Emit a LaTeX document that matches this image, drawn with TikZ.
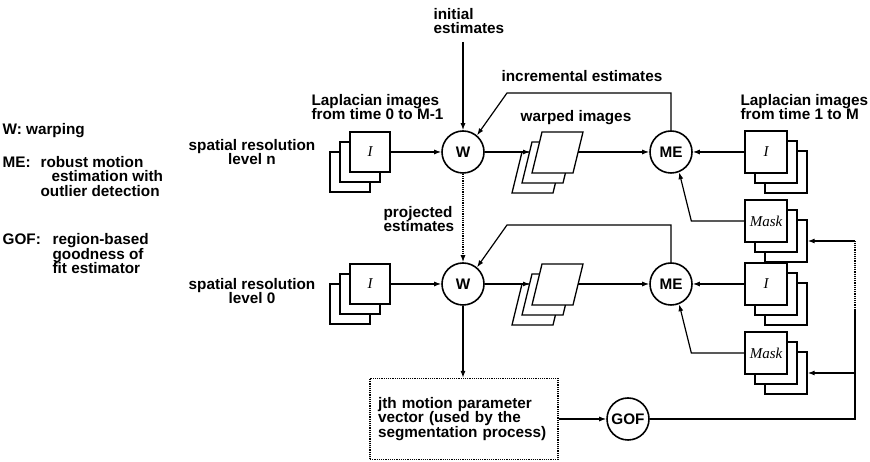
\documentclass[tikz,border=0pt]{standalone}
\usepackage{fontspec}
\setmainfont{Liberation Sans}
\newfontfamily\imgfont{Liberation Serif}
\usetikzlibrary{arrows.meta}

\tikzset{
  >={Latex[length=7pt,width=5pt]},
  every node/.style={font=\fontsize{15.3}{14.5}\selectfont\bfseries},
  op/.style={draw, circle, line width=1.6pt, minimum size=42pt, inner sep=0pt, fill=white},
  imgbox/.style={draw, fill=white, line width=1.3pt, minimum size=40pt, inner sep=0pt,
    font=\fontsize{15}{15}\selectfont\imgfont\itshape},
  sheet/.style={draw, fill=white, line width=1.3pt},
  lbl/.style={align=left, inner sep=0pt},
}

\begin{document}
\begin{tikzpicture}[x=1pt,y=1pt,line width=1.2pt]
\useasboundingbox (0,0) rectangle (870,462);

% key
\node[lbl,anchor=west] (keyw) at (2,331) {W: warping};
\node[lbl,anchor=west] (keyme) at (2,285.5) {\makebox[38pt][l]{ME:}robust motion\\\hspace*{49pt}estimation with\\\hspace*{38pt}outlier detection};
\node[lbl,anchor=west] (keygof) at (2,208) {\makebox[50pt][l]{GOF:}region-based\\\hspace*{50pt}goodness of\\\hspace*{50pt}fit estimator};

% the two resolution levels
\foreach \y/\l in {310/n,178/0} {
  \foreach \d in {20,10}
    \node[imgbox] (lap\l-\d) at (370-\d,\y-\d) {};
  \node[imgbox] (lap\l) at (370,\y) {I};
  \node[op] (w\l) at (463,\y) {W};
  \foreach \d in {20,10,0}
    \draw[sheet] (532-\d,\y-21-\d) -- ++(41,0) -- ++(10,41) -- ++(-41,0) -- cycle;
  \coordinate (warpin\l) at (530,\y);
  \coordinate (warpout\l) at (578,\y);
  \node[op] (me\l) at (671,\y) {ME};
  \foreach \d in {20,10}
    \node[imgbox,minimum size=42pt] (im\l-\d) at (766+\d,\y-\d) {};
  \node[imgbox,minimum size=42pt] (im\l) at (766,\y) {I};
  \foreach \d in {20,10}
    \node[imgbox,minimum size=42pt] (mask\l-\d) at (766+\d,\y-69-\d) {};
  \node[imgbox,minimum size=42pt] (mask\l) at (766,\y-69) {Mask};
  \coordinate (inc\l) at (507,\y+59);
  \draw[->] (lap\l) -- (w\l);
  \draw[->] (w\l) -- (warpin\l);
  \draw[->] (warpout\l) -- (me\l);
  \draw[->] (im\l) -- (me\l);
  \draw[->] (mask\l.west) -- ++(-53,0) -- (me\l.-68);
  \draw[->] (me\l.north) |- (inc\l) -- (w\l.50);
}

% labels
\node[lbl,align=center] (resn) at (252,310) {spatial resolution\\level n};
\node[lbl,align=center] (res0) at (252,171) {spatial resolution\\level 0};
\node[lbl,anchor=west] (lapleft) at (311,355) {Laplacian images\\from time 0 to M-1};
\node[lbl,anchor=west] (lapright) at (740,355) {Laplacian images\\from time 1 to M};
\node[lbl] (warplbl) at (576,344) {warped images};
\node[lbl] (inclbl) at (582,386) {incremental estimates};
\node[lbl,anchor=west] (initlbl) at (433,441) {initial\\estimates};
\node[lbl,anchor=west] (projlbl) at (383,243) {projected\\estimates};

\coordinate (init) at (463,420);
\draw[->] (init) -- (wn);
\draw[->,densely dotted] (wn) -- (w0);

% parameter vector and goodness of fit
\node[draw, densely dotted, line width=1.2pt, minimum width=188pt, minimum height=81pt,
  text width=172pt, align=left] (jth) at (464,43)
  {jth motion parameter\\vector (used by the\\segmentation process)};
\draw[->] (w0) -- (w0 |- jth.north);
\node[op] (gof) at (628,43) {GOF};
\draw[->] (jth) -- (gof);

% feedback to the masks
\coordinate (fbot) at (855,43);
\coordinate (fmid) at (855,152);
\coordinate (ftop) at (855,221);
\draw[->] (gof) -- (fbot) |- (mask0-20.east);
\draw (fbot) -- (fmid);
\draw[densely dotted] (fmid) -- (ftop);
\draw[->] (ftop) -- (maskn-20.east);
\end{tikzpicture}
\end{document}
